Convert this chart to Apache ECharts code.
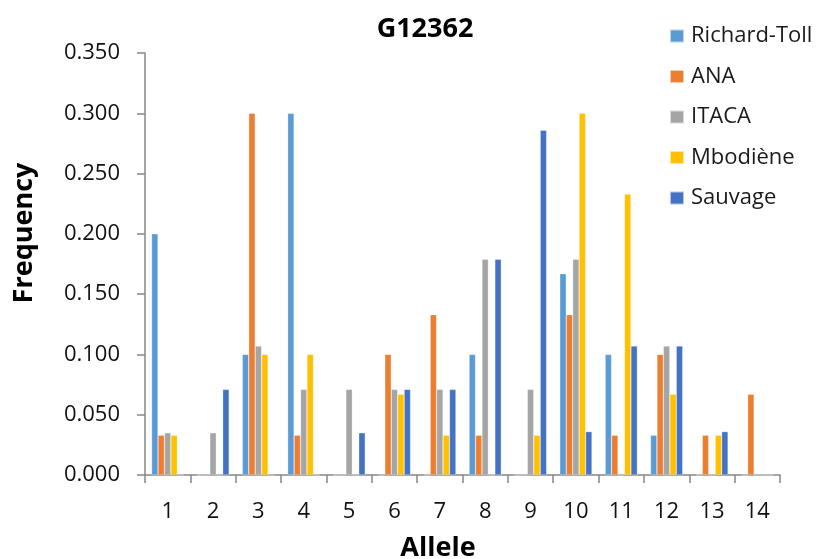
<!DOCTYPE html>
<html><head><meta charset="utf-8">
<script src="https://cdn.jsdelivr.net/npm/echarts@6/dist/echarts.min.js"></script>
<style>html,body{margin:0;padding:0;background:#fff}#c{width:818px;height:559px}</style>
</head><body><div id="c"></div>
<script>
const categories = ['1','2','3','4','5','6','7','8','9','10','11','12','13','14'];
const richardToll = [0.200,0,0.100,0.300,0,0,0,0.100,0,0.167,0.100,0.033,0,0];
const ana         = [0.033,0,0.300,0.033,0,0.100,0.133,0.033,0,0.133,0.033,0.100,0.033,0.067];
const itaca       = [0.035,0.035,0.107,0.071,0.071,0.071,0.071,0.179,0.071,0.179,0,0.107,0,0];
const mbodiene    = [0.033,0,0.100,0.100,0,0.067,0.033,0,0.033,0.300,0.233,0.067,0.033,0];
const sauvage     = [0,0.071,0,0,0.035,0.071,0.071,0.179,0.286,0.036,0.107,0.107,0.036,0];
const seriesNames = ['Richard-Toll','ANA','ITACA','Mbodiène','Sauvage'];
const colors = ['#5B9BD5','#ED7D31','#A5A5A5','#FFC000','#4472C4'];
const dataSets = [richardToll, ana, itaca, mbodiene, sauvage];
const font = '"Open Sans", "Noto Sans", sans-serif';
const chart = echarts.init(document.getElementById('c'));
chart.setOption({
  animation: false,
  title: { text: 'G12362', left: 420, top: 11, textAlign: 'center',
    textStyle: { fontFamily: font, fontSize: 27, fontWeight: 'bold', color: '#000' } },
  legend: { orient: 'vertical', left: 669, top: 25, padding: 0, itemGap: 18.5, itemWidth: 14, itemHeight: 13,
    icon: 'rect', textStyle: { fontFamily: font, fontSize: 22, color: '#1a1a1a', padding: [0, 0, 0, 2] }, data: seriesNames },
  grid: { left: 145, top: 53, right: 38, bottom: 84 },
  xAxis: { type: 'category', data: categories,
    axisLine: { lineStyle: { color: '#868686', width: 1.5 } },
    axisTick: { show: true, length: 8, lineStyle: { color: '#868686', width: 1.5 } },
    axisLabel: { fontFamily: font, fontSize: 22, color: '#111', margin: 26 } },
  yAxis: { type: 'value', min: 0, max: 0.35, interval: 0.05,
    splitLine: { show: false },
    axisLine: { show: true, lineStyle: { color: '#868686', width: 1.5 } },
    axisTick: { show: true, length: 8, lineStyle: { color: '#868686', width: 1.5 } },
    axisLabel: { fontFamily: font, fontSize: 22, color: '#111', margin: 25, formatter: v => v.toFixed(3) } },
  graphic: [
    { type: 'text', x: 24, y: 233, rotation: Math.PI / 2, style: { text: 'Frequency', fontFamily: font, fontSize: 27, fontWeight: 'bold', fill: '#000', align: 'center', verticalAlign: 'middle' } },
    { type: 'text', x: 438, y: 548, style: { text: 'Allele', fontFamily: font, fontSize: 27, fontWeight: 'bold', fill: '#000', align: 'center', verticalAlign: 'middle' } }
  ],
  series: dataSets.map((d, i) => ({
    name: seriesNames[i], type: 'bar', data: d, barGap: '0%', barCategoryGap: '29%',
    itemStyle: { color: colors[i], borderColor: 'rgba(255,255,255,0.6)', borderWidth: 0.5 }
  }))
});
</script></body></html>
